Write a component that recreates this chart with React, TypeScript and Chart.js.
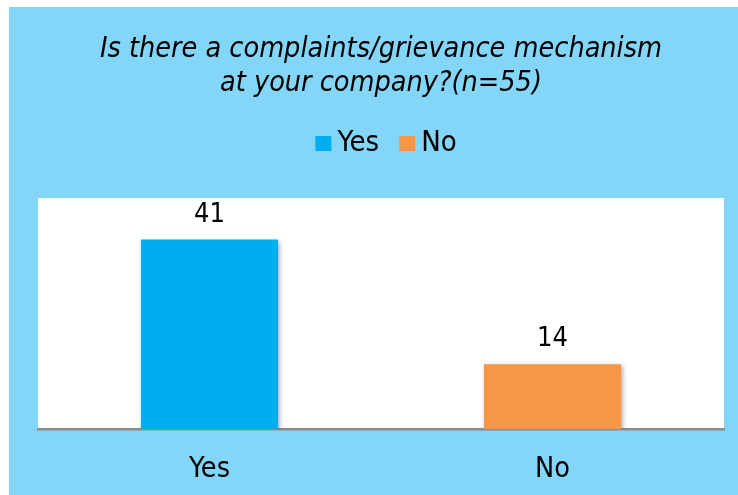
import React, { useEffect, useRef } from "react";
import { Chart, registerables } from "chart.js";

Chart.register(...registerables);

const categories = ["Yes", "No"];
const seriesNames = ["Yes", "No"];
const yesValues = [41, null];
const noValues = [null, 14];
const titleLines = ["Is there a complaints/grievance mechanism", "at your company?(n=55)"];
const colors = ["#00ADEE", "#F79646"];

const FONT = "'DejaVu Sans Condensed', 'DejaVu Sans', sans-serif";
const BG_BLUE = "#83D6F8";

const backgroundPlugin = {
  id: "bgPlugin",
  beforeDraw(chart: any) {
    const { ctx, width, height, chartArea } = chart;
    ctx.save();
    ctx.fillStyle = "#ffffff";
    ctx.fillRect(0, 0, width, height);
    ctx.fillStyle = BG_BLUE;
    ctx.fillRect(9, 7, width - 9, height - 7);
    ctx.fillStyle = "#ffffff";
    ctx.fillRect(chartArea.left, chartArea.top, chartArea.right - chartArea.left, chartArea.bottom - chartArea.top);
    ctx.restore();
  },
  afterDraw(chart: any) {
    // custom legend
    const { ctx } = chart;
    ctx.save();
    ctx.font = `normal 29px ${FONT}`;
    const boxW = 16, boxH = 15, gap = 6, itemGap = 20;
    const items = chart.data.datasets.map((d: any) => ({ text: d.label, color: d.backgroundColor }));
    let total = 0;
    items.forEach((it: any, i: number) => {
      total += boxW + gap + ctx.measureText(it.text).width + (i < items.length - 1 ? itemGap : 0);
    });
    const center = (chart.chartArea.left + chart.chartArea.right) / 2 + 5;
    let x = center - total / 2;
    const cy = 143.5;
    ctx.textBaseline = "middle";
    ctx.textAlign = "left";
    items.forEach((it: any) => {
      ctx.fillStyle = it.color;
      ctx.fillRect(x, cy - boxH / 2, boxW, boxH);
      x += boxW + gap;
      ctx.fillStyle = "#000000";
      ctx.fillText(it.text, x, cy);
      x += ctx.measureText(it.text).width + itemGap;
    });
    ctx.restore();
  },
};

const barPlugin = {
  id: "barShadowLabels",
  beforeDatasetsDraw(chart: any) {
    const { ctx } = chart;
    ctx.save();
    ctx.shadowColor = "rgba(0,0,0,0.35)";
    ctx.shadowBlur = 5;
    ctx.shadowOffsetX = 2;
    ctx.shadowOffsetY = 2;
  },
  afterDatasetsDraw(chart: any) {
    const { ctx } = chart;
    ctx.restore();
    ctx.save();
    ctx.font = `normal 27px ${FONT}`;
    ctx.fillStyle = "#000000";
    ctx.textAlign = "center";
    ctx.textBaseline = "alphabetic";
    chart.data.datasets.forEach((ds: any, di: number) => {
      const meta = chart.getDatasetMeta(di);
      meta.data.forEach((el: any, i: number) => {
        const v = ds.data[i];
        if (v === null || v === undefined) return;
        ctx.fillText(String(v), el.x, el.y - 18);
      });
    });
    ctx.restore();
  },
};

export default function App() {
  const ref = useRef<HTMLCanvasElement | null>(null);
  useEffect(() => {
    document.body.style.margin = "0";
    if (!ref.current) return;
    const chart = new Chart(ref.current, {
      type: "bar",
      data: {
        labels: categories,
        datasets: [
          { label: seriesNames[0], data: yesValues, backgroundColor: colors[0] },
          { label: seriesNames[1], data: noValues, backgroundColor: colors[1] },
        ],
      },
      options: {
        responsive: false,
        animation: false,
        layout: { padding: { left: 38, right: 14, top: 0, bottom: 0 } },
        datasets: {
          bar: { grouped: false, barPercentage: 0.4, categoryPercentage: 1.0 } as any,
        },
        plugins: {
          legend: { display: false },
          tooltip: { enabled: false },
          title: {
            display: true,
            text: titleLines,
            color: "#000000",
            font: { family: FONT, size: 28.5, style: "italic", weight: "normal", lineHeight: 1.2 },
            padding: { top: 32, bottom: 97.6 },
          },
        },
        scales: {
          x: {
            z: 1,
            grid: { display: false, drawTicks: false },
            border: { display: true, color: "#8C8C8C", width: 2.5 },
            ticks: { color: "#000000", font: { family: FONT, size: 28.5 }, padding: 23 },
            afterFit: (scale: any) => {
              scale.height = 66;
            },
          },
          y: { display: false, min: 0, max: 50 },
        },
      },
      plugins: [backgroundPlugin, barPlugin],
    });
    return () => chart.destroy();
  }, []);
  return (
    <div style={{ width: 738, height: 495 }}>
      <canvas ref={ref} width={738} height={495} style={{ display: "block" }} />
    </div>
  );
}
